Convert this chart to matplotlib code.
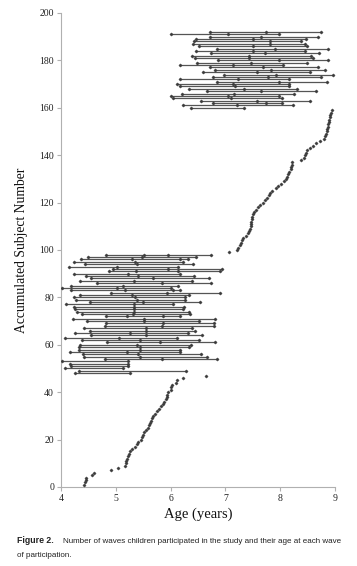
import matplotlib
matplotlib.use("Agg")
import matplotlib.pyplot as plt

# Subjects 1-47: single wave (ages)
single_low_ages = [4.42, 4.43, 4.45, 4.46, 4.57, 4.60, 4.92, 5.04, 5.17, 5.18,
                   5.19, 5.21, 5.22, 5.24, 5.26, 5.29, 5.35, 5.38, 5.40, 5.46,
                   5.47, 5.49, 5.52, 5.55, 5.58, 5.60, 5.62, 5.64, 5.66, 5.68,
                   5.72, 5.76, 5.78, 5.82, 5.86, 5.88, 5.92, 5.93, 5.94, 5.95,
                   6.00, 6.01, 6.02, 6.10, 6.12, 6.23, 6.65]

# Subjects 48-98: multiple waves
multi_low_ages = [
    [4.26, 5.26], [4.32, 6.28], [4.07, 5.14], [4.19, 5.23], [4.16, 5.23],
    [4.01, 5.22], [4.80, 5.84, 6.84], [4.41, 5.44, 6.66], [4.40, 5.41, 6.55],
    [4.16, 5.20, 6.17], [4.32, 5.44, 6.17], [4.32, 5.44, 6.34], [4.35, 5.38, 6.37],
    [4.83, 5.81, 6.81], [4.38, 5.44, 6.52], [4.07, 5.05, 6.11], [4.54, 5.55, 6.57],
    [4.25, 5.26, 6.32], [4.53, 5.55, 6.45], [4.42, 5.55, 6.40], [4.80, 5.84, 6.80],
    [4.82, 5.86, 6.79], [4.48, 5.51, 6.51], [4.21, 5.51, 6.81], [4.82, 5.20, 5.86, 6.17],
    [4.38, 5.32, 6.36], [4.30, 5.34, 6.34], [4.25, 5.34, 6.22], [4.23, 5.34, 6.25],
    [4.09, 5.34, 6.05], [4.53, 5.49, 6.54], [4.27, 5.39, 6.27], [4.24, 5.35, 6.26],
    [4.35, 5.29, 6.33], [4.91, 5.93, 6.90], [4.18, 5.16, 6.05, 6.18], [4.01, 5.02, 6.00],
    [4.18, 5.14, 6.13], [4.66, 5.84, 6.73], [4.35, 5.34, 6.40], [4.54, 5.67, 6.71],
    [4.46, 5.41, 6.43], [4.23, 5.22, 6.17], [4.88, 5.36, 6.14, 6.90], [4.94, 5.96, 6.93],
    [4.14, 5.03, 6.14], [4.43, 5.39, 6.41], [4.24, 5.35, 6.22], [4.36, 5.29, 6.17, 6.32],
    [4.50, 5.48, 6.46], [4.82, 5.51, 5.96, 6.74],
]

# Subjects 99-159: single wave
single_high_ages = [7.07, 7.21, 7.23, 7.26, 7.28, 7.30, 7.33, 7.37, 7.42, 7.44,
                    7.45, 7.46, 7.47, 7.47, 7.48, 7.49, 7.50, 7.52, 7.56, 7.60,
                    7.64, 7.68, 7.72, 7.76, 7.79, 7.82, 7.85, 7.92, 7.96, 8.02,
                    8.07, 8.10, 8.13, 8.15, 8.17, 8.19, 8.20, 8.21, 8.22, 8.38,
                    8.43, 8.45, 8.47, 8.49, 8.55, 8.60, 8.65, 8.72, 8.80, 8.82,
                    8.84, 8.85, 8.86, 8.87, 8.88, 8.89, 8.90, 8.91, 8.92, 8.93, 8.95]

# Subjects 160-192: multiple waves
multi_high_ages = [
    [6.37, 7.34], [6.22, 7.21, 8.24], [6.77, 7.75, 8.04], [6.55, 7.57, 8.54],
    [6.05, 7.10, 8.04], [6.00, 7.05, 7.98], [6.20, 7.16, 8.25], [6.66, 7.66, 8.65],
    [6.34, 7.34, 8.31], [6.17, 7.18, 8.17], [6.11, 7.14, 8.17], [6.84, 7.98, 8.85],
    [6.18, 7.24, 8.17], [6.78, 7.77, 8.74], [6.97, 7.92, 8.96], [6.60, 7.57, 8.54],
    [6.81, 7.83, 8.82], [6.72, 7.69, 8.70], [6.17, 7.14, 8.06], [6.48, 7.46, 8.50],
    [6.87, 7.98, 8.88], [6.45, 7.44, 8.60], [6.40, 7.44, 8.57], [6.73, 7.72, 8.71],
    [6.46, 7.51, 8.45], [6.84, 7.91, 8.88], [6.51, 7.50, 8.50], [6.41, 7.81, 8.45],
    [6.43, 7.81, 8.39], [6.46, 7.51, 8.47], [6.72, 7.66, 8.70], [6.01, 7.04, 7.98],
    [6.72, 7.74, 8.74],
]

x_ticks = [4, 5, 6, 7, 8, 9]
y_ticks = list(range(0, 201, 20))

subjects = []
subjects += [[a] for a in single_low_ages]
subjects += multi_low_ages
subjects += [[a] for a in single_high_ages]
subjects += multi_high_ages

fig = plt.figure(figsize=(3.57, 5.66), dpi=100)
ax = fig.add_axes([0.171, 0.1396, 0.767, 0.8375])

line_col = "#555555"
for i, ages in enumerate(subjects):
    n = i + 1
    if len(ages) > 1:
        ax.plot([min(ages), max(ages)], [n, n], color=line_col, lw=0.9, zorder=2)
    ax.plot(ages, [n] * len(ages), linestyle="none", marker="D", ms=1.6,
            color="#3a3a3a", mec="#3a3a3a", mew=0.4, zorder=3)

ax.set_xlim(4, 9)
ax.set_ylim(0, 200)
ax.set_xticks(x_ticks)
ax.set_yticks(y_ticks)
serif = ["Liberation Serif", "DejaVu Serif"]
ax.set_xticklabels([str(t) for t in x_ticks], family=serif, fontsize=7)
ax.set_yticklabels([str(t) for t in y_ticks], family=serif, fontsize=7)
for s in ["top", "right"]:
    ax.spines[s].set_visible(False)
for s in ["left", "bottom"]:
    ax.spines[s].set_color("#b0b0b0")
    ax.spines[s].set_linewidth(0.8)
ax.tick_params(axis="both", direction="out", length=3, width=0.8, color="#b0b0b0",
               labelcolor="#222222", pad=2)
ax.set_xlabel("Age (years)", family=serif, fontsize=10.5, color="#111111", labelpad=3)
ax.set_ylabel("Accumulated Subject Number", family=serif, fontsize=9.8,
              color="#111111", labelpad=8)

sans = ["Liberation Sans", "DejaVu Sans"]
fig.text(0.048, 0.041, "Figure 2.", family=sans,
         fontsize=6.3, fontweight="bold", color="#222222")
fig.text(0.177, 0.041,
         "Number of waves children participated in the study and their age at each wave",
         family=sans, fontsize=5.75, color="#222222")
fig.text(0.048, 0.016, "of participation.", family=sans,
         fontsize=5.75, color="#222222")

fig.savefig("out.png", dpi=100, facecolor="white")
